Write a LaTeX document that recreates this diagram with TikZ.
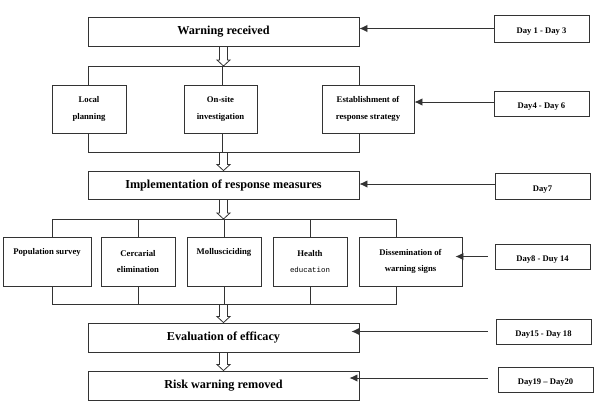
\documentclass[tikz,border=0pt]{standalone}
\usepackage{fontspec}
\setmainfont{Liberation Serif}
\setmonofont{Liberation Mono}
\usetikzlibrary{arrows.meta,calc}
\begin{document}
\begin{tikzpicture}[x=1pt,y=-1pt,line width=0.9pt,
  box/.style={draw=black!80,inner sep=0pt,align=center},
  mainbox/.style={box,minimum width=271pt,font=\bfseries\fontsize{12.2}{14}\selectfont},
  smallbox/.style={box,minimum width=74pt,font=\bfseries\fontsize{8.7}{17}\selectfont},
  lowbox/.style={box,minimum width=74pt,minimum height=49pt,font=\bfseries\fontsize{8.7}{16}\selectfont},
  daybox/.style={box,minimum width=95pt,text height=10.5pt,text depth=0pt,font=\bfseries\fontsize{8.6}{10}\selectfont},
  hollow/.style={draw=black!80,line width=0.8pt,
    to path={let \p1=(\tikztostart),\p2=(\tikztotarget) in
      (\x1-4pt,\y1) -- (\x1-4pt,\y2+6pt) -- (\x1-6.5pt,\y2+6pt) -- (\x1,\y2)
      -- (\x1+6.5pt,\y2+6pt) -- (\x1+4pt,\y2+6pt) -- (\x1+4pt,\y1)}},
  dayarrow/.style={draw=black!80,line width=0.9pt,-{Latex[length=8pt,width=7.5pt]}},
  link/.style={draw=black!80,line width=0.9pt}]
\useasboundingbox (0,0) rectangle (600,408);
% main boxes
\node[mainbox,minimum height=29pt] (warn) at (223.5,31.5) {Warning received};
\node[mainbox,minimum height=28pt] (impl) at (223.5,185) {Implementation of response measures};
\node[mainbox,minimum height=29pt] (eval) at (223.5,337.5) {Evaluation of efficacy};
\node[mainbox,minimum height=29pt] (risk) at (223.5,385.5) {Risk warning removed};
% first group
\node[smallbox,minimum height=48pt] (local) at (89,109) {Local\\planning};
\node[smallbox,minimum width=73pt,minimum height=48pt] (onsite) at (220.5,109) {On-site\\investigation};
\node[smallbox,minimum width=92pt,minimum height=48pt] (estab) at (368,109) {Establishment of\\response strategy};
% second group
\node[lowbox,minimum width=88pt] (pop) at (47,261.5) {Population survey\\\strut};
\node[lowbox] (cerc) at (138,261.5) {Cercarial\\elimination};
\node[lowbox] (moll) at (224,261.5) {Mollusciciding\\\strut};
\node[lowbox] (health) at (310,261.5) {Health\\{\mdseries\ttfamily\fontsize{7.4}{9}\selectfont education}};
\node[lowbox,minimum width=103pt] (diss) at (410.5,261.5) {Dissemination of\\warning signs};
% day boxes
\node[daybox,minimum height=27pt] (d1) at (541.5,28.5) {Day 1 - Day 3};
\node[daybox,minimum height=25pt] (d4) at (541.5,103.5) {Day4 - Day 6};
\node[daybox,minimum height=26pt] (d7) at (542.5,186) {Day7};
\node[daybox,minimum height=25pt] (d8) at (542.5,256.5) {Day8 - Duy 14};
\node[daybox,minimum height=25pt] (d15) at (543.5,331.5) {Day15 - Day 18};
\node[daybox,minimum height=25pt] (d19) at (545.5,379.5) {Day19 -- Day20};
% bracket coordinates
\coordinate (b1t) at (223.5,66);
\coordinate (b1b) at (223.5,152);
\coordinate (b2t) at (223.5,219);
\coordinate (b2b) at (223.5,304);
% bracket 1
\draw[link] (88,85) -- (88,66) -- (359,66) -- (359,85);
\draw[link] (222,85) -- (222,66);
\draw[link] (88,133) -- (88,152) -- (359,152) -- (359,133);
\draw[link] (222,133) -- (222,152);
% bracket 2
\draw[link] (52,237) -- (52,219) -- (396,219) -- (396,237);
\draw[link] (cerc.north) -- (cerc.north |- b2t);
\draw[link] (moll.north) -- (moll.north |- b2t);
\draw[link] (health.north) -- (health.north |- b2t);
\draw[link] (52,286) -- (52,304) -- (396,304) -- (396,286);
\draw[link] (cerc.south) -- (cerc.south |- b2b);
\draw[link] (moll.south) -- (moll.south |- b2b);
\draw[link] (health.south) -- (health.south |- b2b);
% hollow arrows
\draw[hollow] (warn.south) to (b1t);
\draw[hollow] (b1b) to (impl.north);
\draw[hollow] (impl.south) to (b2t);
\draw[hollow] (b2b) to (eval.north);
\draw[hollow] (eval.south) to (risk.north);
% day arrows
\draw[dayarrow] (d1.west) -- (d1.west -| warn.east);
\draw[dayarrow] ([yshift=1.5pt]d4.west) -- ([yshift=1.5pt]d4.west -| estab.east);
\draw[dayarrow] ([yshift=2pt]d7.west) -- ([yshift=2pt]d7.west -| impl.east);
\draw[dayarrow] ([xshift=-7pt]d8.west) -- ([xshift=-7pt]d8.west -| diss.east);
\draw[dayarrow] ([xshift=-8pt]d15.west) -- ([xshift=-8pt]d15.west -| eval.east);
\draw[dayarrow] ([xshift=-10pt,yshift=1.5pt]d19.west) -- ([xshift=-10pt,yshift=1.5pt]d19.west -| risk.east);
\end{tikzpicture}
\end{document}
